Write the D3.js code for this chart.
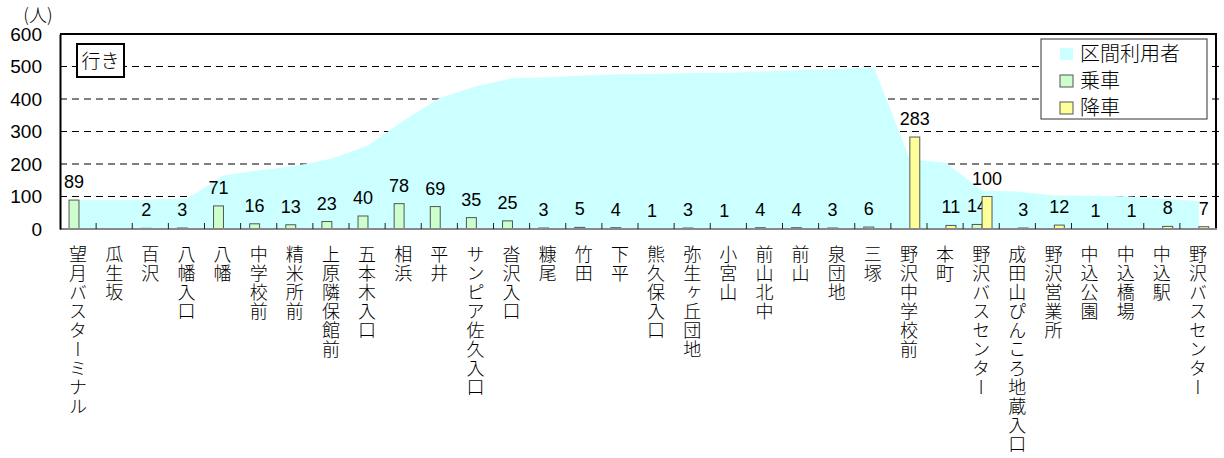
<!DOCTYPE html>
<html>
<head>
<meta charset="utf-8">
<script src="https://cdn.jsdelivr.net/npm/d3@7"></script>
<style>
  body { margin: 0; background: #fff; }
  svg text { font-family: "Liberation Sans", Arial, "Noto Sans CJK JP", sans-serif; fill: #000; }
  .jp { font-family: "Noto Sans CJK JP", sans-serif; font-weight: 300; }
  .stop-label { writing-mode: vertical-rl; text-orientation: upright; }
</style>
</head>
<body>
<svg id="chart" width="1224" height="458"></svg>
<script>
// bus stops, outbound direction (行き)
const stops = ["望月バスターミナル", "瓜生坂", "百沢", "八幡入口", "八幡", "中学校前", "精米所前", "上原隣保館前",
  "五本木入口", "相浜", "平井", "サンピア佐久入口", "沓沢入口", "糠尾", "竹田", "下平", "熊久保入口",
  "弥生ヶ丘団地", "小宮山", "前山北中", "前山", "泉団地", "三塚", "野沢中学校前", "本町", "野沢バスセンター",
  "成田山ぴんころ地蔵入口", "野沢営業所", "中込公園", "中込橋場", "中込駅", "野沢バスセンター"];

// 乗車 (boarding)
const boarding = [89, 0, 2, 3, 71, 16, 13, 23, 40, 78, 69, 35, 25, 3, 5, 4, 1, 3, 1, 4, 4, 3, 6,
  0, 0, 14, 0, 0, 0, 0, 0, 0];
// 降車 (alighting)
const alighting = [0, 0, 0, 0, 0, 0, 0, 0, 0, 0, 0, 0, 0, 0, 0, 0, 0, 0, 0, 0, 0, 0, 0,
  283, 11, 100, 3, 12, 1, 1, 8, 7];
// 区間利用者 (riders on the section)
const riders = [89, 89, 91, 94, 165, 181, 194, 217, 257, 335, 404, 439, 464, 467, 472, 476, 477, 480,
  481, 485, 489, 492, 498, 215, 204, 118, 115, 103, 102, 101, 93, 86];

const yTicks = [0, 100, 200, 300, 400, 500, 600];
const seriesNames = ["区間利用者", "乗車", "降車"];

const colors = { area: "#ccffff", board: "#ccffcc", alight: "#ffff99", barStroke: "#555" };

const margin = { top: 34, right: 8, bottom: 229, left: 60 };
const width = 1224 - margin.left - margin.right;
const height = 458 - margin.top - margin.bottom;

const svg = d3.select("#chart");
const g = svg.append("g").attr("transform", `translate(${margin.left},${margin.top})`);

const idx = stops.map((d, i) => i);
const xScale = d3.scaleBand().domain(idx).range([0, width]);
const bw = xScale.bandwidth();
const subScale = d3.scaleBand().domain(["board", "alight"]).range([bw * 0.25, bw * 0.8]);
const yScale = d3.scaleLinear().domain([0, 600]).range([height, 0]);

// gridlines
g.append("g").selectAll("line")
  .data(yTicks.filter(d => d > 0 && d < 600))
  .join("line")
  .attr("x1", 0).attr("x2", width + 4)
  .attr("y1", d => yScale(d)).attr("y2", d => yScale(d))
  .attr("stroke", "#000").attr("stroke-width", 1).attr("stroke-dasharray", "7,5");

// area of riders
const area = d3.area()
  .x((d, i) => xScale(i) + bw / 2 + 1)
  .y0(yScale(0))
  .y1(d => yScale(d));
g.append("path").datum(riders).attr("d", area).attr("fill", colors.area);

// bars
const bars = g.append("g");
[["board", boarding], ["alight", alighting]].forEach(([key, vals]) => {
  const data = vals.map((v, i) => ({ i, v })).filter(d => d.v > 0);
  bars.selectAll(null).data(data).join("rect")
    .attr("x", d => xScale(d.i) + subScale(key))
    .attr("y", d => yScale(d.v))
    .attr("width", subScale.bandwidth())
    .attr("height", d => yScale(0) - yScale(d.v))
    .attr("fill", colors[key])
    .attr("stroke", colors.barStroke)
    .attr("stroke-width", 1);
  bars.selectAll(null).data(data).join("text")
    .attr("x", d => xScale(d.i) + subScale(key) + subScale.bandwidth() / 2)
    .attr("y", d => yScale(d.v) - 12)
    .attr("text-anchor", "middle")
    .attr("font-size", 18)
    .text(d => d.v);
});

// frame: top and right borders
g.append("line").attr("x1", 0).attr("x2", width).attr("y1", 0).attr("y2", 0)
  .attr("stroke", "#000").attr("stroke-width", 2);
g.append("line").attr("x1", width).attr("x2", width).attr("y1", -1).attr("y2", height)
  .attr("stroke", "#000").attr("stroke-width", 2);

// x axis
const xAxisG = g.append("g").attr("transform", `translate(0,${height})`);
xAxisG.append("line").attr("x1", 0).attr("x2", width + 1).attr("y1", 0).attr("y2", 0)
  .attr("stroke", "#888").attr("stroke-width", 2);
xAxisG.selectAll(".tick").data(idx.slice(1)).join("line")
  .attr("class", "tick")
  .attr("x1", d => xScale(d)).attr("x2", d => xScale(d))
  .attr("y1", -6).attr("y2", 0)
  .attr("stroke", "#222").attr("stroke-width", 1);
xAxisG.selectAll(".stop-label").data(stops).join("text")
  .attr("class", "stop-label jp")
  .attr("x", (d, i) => xScale(i) + bw / 2)
  .attr("y", 16)
  .attr("font-size", 18)
  .attr("letter-spacing", 1)
  .text(d => d);

// y axis
const yAxis = d3.axisLeft(yScale).tickValues(yTicks).tickSize(0).tickPadding(18);
const yAxisG = g.append("g").call(yAxis);
yAxisG.select(".domain").attr("stroke", "#000").attr("stroke-width", 2);
yAxisG.selectAll("text").attr("font-size", 19).attr("font-family", "Liberation Sans, Arial, sans-serif");
g.append("text").attr("class", "jp").attr("x", -22).attr("y", -12)
  .attr("text-anchor", "middle").attr("font-size", 18).text("(人)");

// 行き box
const tag = g.append("g").attr("transform", "translate(17,10)");
tag.append("rect").attr("width", 47).attr("height", 33)
  .attr("fill", "#fff").attr("stroke", "#000").attr("stroke-width", 2);
tag.append("text").attr("class", "jp").attr("x", 23.5).attr("y", 23.5)
  .attr("text-anchor", "middle").attr("font-size", 19).text("行き");

// legend
const legend = svg.append("g").attr("transform", "translate(1041,39)");
legend.append("rect").attr("width", 166).attr("height", 80)
  .attr("fill", "#fff").attr("stroke", "#333").attr("stroke-width", 1);
const legendFill = [colors.area, colors.board, colors.alight];
const rows = legend.selectAll(".row").data(seriesNames).join("g")
  .attr("class", "row")
  .attr("transform", (d, i) => `translate(19,${15 + i * 27})`);
rows.append("rect")
  .attr("x", 0).attr("y", -6).attr("width", 13).attr("height", 12)
  .attr("fill", (d, i) => legendFill[i])
  .attr("stroke", (d, i) => i === 0 ? "none" : colors.barStroke);
rows.append("text").attr("class", "jp").attr("x", 20).attr("y", 7)
  .attr("font-size", 20).text(d => d);
</script>
</body>
</html>
